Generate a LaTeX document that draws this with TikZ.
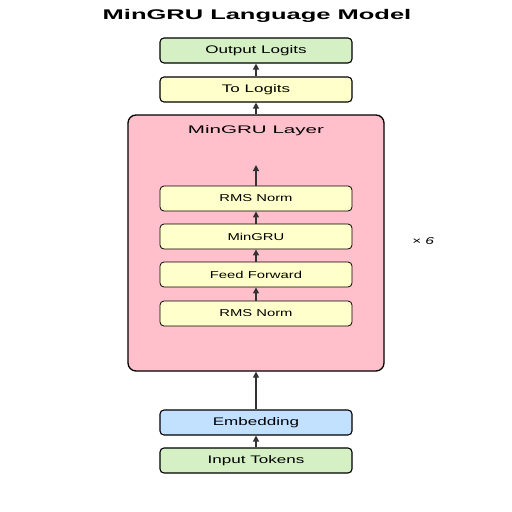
\documentclass[tikz,border=0pt]{standalone}
\usepackage{fontspec}
\setmainfont{Liberation Sans}
\usetikzlibrary{arrows.meta}
\definecolor{cgreen}{HTML}{D4F0C4}
\definecolor{cyellow}{HTML}{FFFFCC}
\definecolor{cblue}{HTML}{C2E0FF}
\definecolor{cpink}{HTML}{FFC0CB}
\definecolor{carrow}{HTML}{333333}
\newcommand{\hstretch}[2]{\scalebox{#1}[1]{#2}}
\tikzset{
  blk/.style={draw=black, line width=1.1pt, rounded corners=4pt, minimum width=192pt, minimum height=25pt, inner sep=0pt, font=\fontsize{11}{13}\selectfont},
  inblk/.style={blk, font=\fontsize{10}{12}\selectfont, line width=0.8pt},
  conn/.style={draw=carrow, line width=1.3pt, -{Triangle[length=6pt,width=6pt]}},
  txt/.style={yshift=-1pt}
}
\begin{document}
\begin{tikzpicture}[x=1pt,y=-1pt]
\useasboundingbox (0,0) rectangle (512,512);
\fill[white] (0,0) rectangle (512,512);
\node[font=\bfseries\fontsize{14}{17}\selectfont] (title) at (257,15.5) {\hstretch{1.82}{MinGRU Language Model}};
\node[blk, fill=cgreen] (out) at (256,50.5) {\hstretch{1.55}{\raisebox{-1pt}{Output Logits}}};
\node[blk, fill=cyellow] (tolog) at (256,89.5) {\hstretch{1.55}{\raisebox{-1pt}{To Logits}}};
\node[draw=black, line width=1.3pt, rounded corners=8pt, fill=cpink, minimum width=256pt, minimum height=256pt, inner sep=0pt] (layer) at (256,243) {};
\node[font=\fontsize{11}{13}\selectfont] (ltitle) at (256,131) {\hstretch{1.87}{MinGRU Layer}};
\node[inblk, fill=cyellow] (rms2) at (256,198.5) {\hstretch{1.48}{\raisebox{-1pt}{RMS Norm}}};
\node[inblk, fill=cyellow] (mingru) at (256,236.5) {\hstretch{1.48}{\raisebox{-1pt}{MinGRU}}};
\node[inblk, fill=cyellow] (ff) at (256,274.5) {\hstretch{1.48}{\raisebox{-1pt}{Feed Forward}}};
\node[inblk, fill=cyellow] (rms1) at (256,313.5) {\hstretch{1.48}{\raisebox{-1pt}{RMS Norm}}};
\coordinate (ltop) at (256,165);
\node[font=\itshape\fontsize{10}{12}\selectfont] (times) at (423,241) {\hstretch{1.55}{× 6}};
\node[blk, fill=cblue] (emb) at (256,422.5) {\hstretch{1.55}{\raisebox{-1pt}{Embedding}}};
\node[blk, fill=cgreen] (inp) at (256,460.5) {\hstretch{1.55}{\raisebox{-1pt}{Input Tokens}}};
\draw[conn] (inp) -- (emb);
\draw[conn] (emb) -- (layer);
\draw[conn] (rms1) -- (ff);
\draw[conn] (ff) -- (mingru);
\draw[conn] (mingru) -- (rms2);
\draw[conn] (rms2) -- (ltop);
\draw[conn] (layer) -- (tolog);
\draw[conn] (tolog) -- (out);
\end{tikzpicture}
\end{document}
